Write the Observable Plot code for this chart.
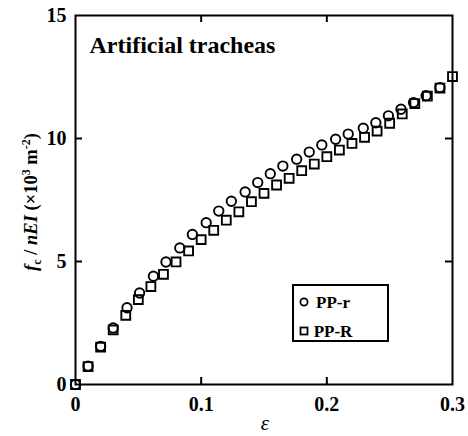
<!DOCTYPE html>
<html>
<head>
<meta charset="utf-8">
<script src="https://cdn.jsdelivr.net/npm/d3@7"></script>
<script src="https://cdn.jsdelivr.net/npm/@observablehq/plot@0.6"></script>
<style>
  html, body { margin: 0; padding: 0; background: #fff; }
  #chart { position: relative; width: 468px; height: 436px; }
  #chart svg, #chart svg text { font-family: "Liberation Serif", "Times New Roman", Times, serif; }
</style>
</head>
<body>
<div id="chart"></div>
<script>
// Data
const title = "Artificial tracheas";
const seriesNames = ["PP-r", "PP-R"];
const epsR = [0, 0.010, 0.020, 0.030, 0.041, 0.051, 0.062, 0.072, 0.083, 0.093, 0.104, 0.114, 0.124, 0.135, 0.145, 0.155, 0.165, 0.176, 0.186, 0.196, 0.207, 0.217, 0.229, 0.239, 0.249, 0.259, 0.269, 0.279, 0.290];
const valR = [0, 0.75, 1.55, 2.30, 3.12, 3.72, 4.40, 4.98, 5.55, 6.10, 6.58, 7.05, 7.45, 7.83, 8.21, 8.57, 8.88, 9.16, 9.45, 9.74, 9.97, 10.18, 10.42, 10.64, 10.92, 11.19, 11.46, 11.74, 12.07];
const epsBigR = [0, 0.01, 0.02, 0.03, 0.04, 0.05, 0.06, 0.07, 0.08, 0.09, 0.10, 0.11, 0.12, 0.13, 0.14, 0.15, 0.16, 0.17, 0.18, 0.19, 0.20, 0.21, 0.22, 0.23, 0.24, 0.25, 0.26, 0.27, 0.28, 0.29, 0.30];
const valBigR = [0, 0.73, 1.52, 2.22, 2.81, 3.45, 3.98, 4.48, 4.98, 5.43, 5.89, 6.27, 6.68, 7.02, 7.43, 7.77, 8.11, 8.38, 8.69, 8.96, 9.26, 9.53, 9.80, 10.05, 10.30, 10.62, 11.00, 11.42, 11.72, 12.05, 12.52];
const xTicks = [0, 0.1, 0.2, 0.3];
const xTickLabels = ["0", "0.1", "0.2", "0.3"];
const xInnerTicks = [0.1, 0.2];
const yTicks = [0, 5, 10, 15];
const yTickLabels = ["0", "5", "10", "15"];
const yInnerTicks = [5, 10];

const dataR = epsR.map((e, i) => ({eps: e, v: valR[i]}));
const dataBigR = epsBigR.map((e, i) => ({eps: e, v: valBigR[i]}));

const FONT = '"Liberation Serif", "Times New Roman", Times, serif';
const W = 468, H = 436, mL = 75, mR = 16, mT = 15, mB = 52;
const pw = W - mL - mR, ph = H - mT - mB, tk = 7;

const plot = Plot.plot({
  width: W, height: H,
  marginLeft: mL, marginRight: mR, marginTop: mT, marginBottom: mB,
  style: {fontFamily: FONT, background: "#fff", color: "#000"},
  x: {domain: [0, 0.3]},
  y: {domain: [0, 15]},
  marks: [
    Plot.axisX(xTicks, {tickSize: 0, tickPadding: 12, tickFormat: (d, i) => xTickLabels[i], fontSize: 20, fontWeight: "bold", label: null}),
    Plot.axisY(yTicks, {tickSize: 0, tickPadding: 9, tickFormat: (d, i) => yTickLabels[i], fontSize: 20, fontWeight: "bold", label: null}),
    Plot.tickX(xInnerTicks, {x: d => d, insetTop: ph - tk, stroke: "#000", strokeWidth: 2}),
    Plot.tickX(xInnerTicks, {x: d => d, insetBottom: ph - tk, stroke: "#000", strokeWidth: 2}),
    Plot.tickY(yInnerTicks, {y: d => d, insetRight: pw - tk, stroke: "#000", strokeWidth: 2}),
    Plot.tickY(yInnerTicks, {y: d => d, insetLeft: pw - tk, stroke: "#000", strokeWidth: 2}),
    Plot.dot(dataR, {x: "eps", y: "v", symbol: "circle", r: 4.7, stroke: "#000", strokeWidth: 1.9, fill: "none"}),
    Plot.dot(dataBigR, {x: "eps", y: "v", symbol: "square", r: 5.0, stroke: "#000", strokeWidth: 1.9, fill: "none"}),
    Plot.frame({stroke: "#000", strokeWidth: 2}),
    Plot.text([title], {frameAnchor: "top-left", dx: 14, dy: 20, lineAnchor: "top", textAnchor: "start", fontSize: 24, fontWeight: "bold", fill: "#000"})
  ]
});

document.getElementById("chart").appendChild(plot);

const svg = d3.select(plot);

// Y axis label
const yl = svg.append("text")
  .attr("transform", "translate(37,202) rotate(-90)")
  .attr("text-anchor", "middle")
  .style("font-family", FONT)
  .attr("font-size", 18.5)
  .attr("font-weight", "bold")
  .attr("fill", "#000");
yl.append("tspan").attr("font-style", "italic").text("f");
yl.append("tspan").attr("font-size", 12).attr("dy", 4).text("c");
yl.append("tspan").attr("dy", -4).text(" / ");
yl.append("tspan").attr("font-style", "italic").text("nEI");
yl.append("tspan").text(" (×10");
yl.append("tspan").attr("font-size", 12).attr("dy", -7).text("3");
yl.append("tspan").attr("dy", 7).text(" m");
yl.append("tspan").attr("font-size", 12).attr("dy", -7).text("-2");
yl.append("tspan").attr("dy", 7).text(")");

// X axis label
svg.append("text")
  .attr("x", 265).attr("y", 430)
  .attr("text-anchor", "middle")
  .style("font-family", FONT)
  .attr("font-size", 21)
  .attr("font-style", "italic")
  .attr("fill", "#000")
  .text("ε");

// Legend
const lg = svg.append("g");
lg.append("rect").attr("x", 293).attr("y", 285).attr("width", 95).attr("height", 56)
  .attr("fill", "#fff").attr("stroke", "#000").attr("stroke-width", 2);
lg.append("circle").attr("cx", 304).attr("cy", 302).attr("r", 3.6)
  .attr("fill", "none").attr("stroke", "#000").attr("stroke-width", 1.8);
lg.append("rect").attr("x", 300.5).attr("y", 327.5).attr("width", 7).attr("height", 7)
  .attr("fill", "none").attr("stroke", "#000").attr("stroke-width", 1.8);
seriesNames.forEach((n, i) => {
  lg.append("text").attr("x", 333).attr("y", 308 + i * 29)
    .style("font-family", FONT)
    .attr("font-size", 17).attr("font-weight", "bold").attr("fill", "#000")
    .text(n);
});
</script>
</body>
</html>
